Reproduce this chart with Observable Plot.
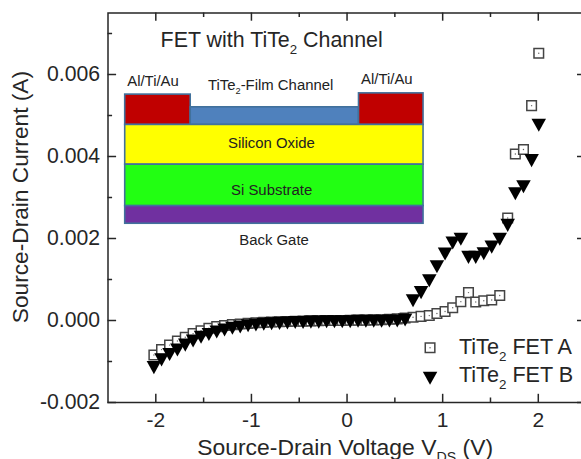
<!DOCTYPE html>
<html>
<head>
<meta charset="utf-8">
<style>
  html, body { margin: 0; padding: 0; background: #fff; }
  svg { display: block; }
</style>
<script src="https://cdn.jsdelivr.net/npm/d3@7"></script>
<script src="https://cdn.jsdelivr.net/npm/@observablehq/plot@0.6"></script>
</head>
<body>
<div id="chart"></div>
<script>
// Measured values (V, mA)
const voltage = [-2.02,-1.94,-1.856,-1.774,-1.692,-1.61,-1.527,-1.445,-1.363,-1.281,-1.199,-1.117,-1.035,-0.953,-0.871,-0.789,-0.706,-0.624,-0.542,-0.46,-0.378,-0.296,-0.214,-0.132,-0.05,0.033,0.115,0.197,0.279,0.361,0.443,0.525,0.607,0.69,0.774,0.86,0.94,1.025,1.105,1.19,1.27,1.346,1.43,1.513,1.597,1.68,1.76,1.845,1.93,2.005];
const fetA = [-0.84,-0.71,-0.60,-0.50,-0.41,-0.32,-0.25,-0.19,-0.15,-0.12,-0.10,-0.085,-0.07,-0.055,-0.045,-0.035,-0.03,-0.025,-0.02,-0.015,-0.01,-0.005,0,0,0,0.005,0.01,0.01,0.015,0.02,0.03,0.04,0.06,0.08,0.10,0.12,0.17,0.22,0.31,0.46,0.68,0.45,0.48,0.50,0.61,2.5,4.06,4.17,5.24,6.52];
const fetB = [-1.15,-0.96,-0.83,-0.72,-0.60,-0.50,-0.41,-0.34,-0.28,-0.23,-0.19,-0.16,-0.13,-0.11,-0.09,-0.08,-0.07,-0.06,-0.05,-0.05,-0.04,-0.04,-0.03,-0.03,-0.03,-0.03,-0.02,-0.02,-0.02,-0.02,-0.01,-0.01,0.01,0.48,0.68,0.97,1.31,1.62,1.89,1.98,1.54,1.54,1.63,1.79,1.98,2.32,3.09,3.26,3.90,4.76];

const xMajor = [-2,-1,0,1,2];
const xMinor = [-1.5,-0.5,0.5,1.5];
const yMajor = [-0.002,0,0.002,0.004,0.006];
const yMinor = [-0.001,0.001,0.003,0.005,0.007];

const seriesNames = ["TiTe_2 FET A","TiTe_2 FET B"];
const legendCurrent = [-0.000666,-0.00141];
const legendBaseline = [-0.000829,-0.001505];

// Schematic inset, in the axes' units
const layerNames = ["Contact L","Channel","Contact R","Oxide","Substrate","Back gate"];
const layerV1 = [-2.32,-1.635,0.125,-2.32,-2.32,-2.32];
const layerV2 = [-1.635,0.125,0.8,0.8,0.8,0.8];
const layerI1 = [0.00477,0.00477,0.00477,0.00380,0.00279,0.00236];
const layerI2 = [0.00551,0.00520,0.00554,0.00477,0.00380,0.00279];
const layerFill = ["#c00000","#4f81bd","#c00000","#ffff00","#22ff12","#7030a0"];

const insetText = ["Al/Ti/Au","Al/Ti/Au","TiTe_2-Film Channel","Silicon Oxide","Si Substrate","Back Gate"];
const insetV = [-2.299,0.146,-1.455,-1.245,-1.213,-1.127];
const insetI = [0.00573,0.00578,0.00563,0.00420,0.00307,0.00185];

const title = "FET with TiTe_2 Channel";
const xLabel = "Source-Drain Voltage V_DS (V)";
const yLabel = "Source-Drain Current (A)";

const xMin = -2.5, xMax = 2.5, yMin = -0.002, yMax = 0.0075;
const major = 0.00020, minor = 0.00011, majorV = 0.09, minorV = 0.048;
const ink = "#262626";

const table = (ys) => voltage.map((v, i) => ({v, i: ys[i] / 1000}));
const layers = layerNames.map((n, k) => ({n, x1: layerV1[k], x2: layerV2[k], y1: layerI1[k], y2: layerI2[k], fill: layerFill[k]}));
const insetLabels = insetText.map((t, k) => ({t, v: insetV[k], i: insetI[k]}));

// Inverted triangle centred on its bounding box
const triangleDown = {
  draw(ctx, size) {
    const s = Math.sqrt(size);
    ctx.moveTo(-s / 2, -s * 0.45);
    ctx.lineTo(s / 2, -s * 0.45);
    ctx.lineTo(0, s * 0.45);
    ctx.closePath();
  }
};
const triangleR = 14.5 / Math.sqrt(Math.PI);
const squareR = 5.4;

const squares = (data) => [
  Plot.dot(data, {x: "v", y: "i", symbol: "square", r: squareR, fill: "#fff", stroke: "#444", strokeWidth: 1.5}),
  Plot.dot(data, {x: "v", y: "i", r: 0.7, fill: "#666"})
];
const triangles = (data) => Plot.dot(data, {x: "v", y: "i", symbol: triangleDown, r: triangleR, fill: "#000", stroke: "none"});

const chart = Plot.plot({
  width: 581,
  height: 459,
  marginLeft: 107.5,
  marginRight: -4.6,
  marginTop: 12.5,
  marginBottom: 57,
  style: {fontFamily: "'Liberation Sans', Arial, sans-serif", background: "#fff", color: ink, overflow: "hidden"},
  x: {domain: [xMin, xMax], axis: null},
  y: {domain: [yMin, yMax], axis: null},
  marks: [
    Plot.rect(layers, {x1: "x1", x2: "x2", y1: "y1", y2: "y2", fill: "fill", stroke: "#41719c", strokeWidth: 1.6, inset: 0}),
    Plot.text(insetLabels, {x: "v", y: "i", text: "t", fontSize: 14.9, textAnchor: "start", lineAnchor: "bottom", fill: "#222"}),
    Plot.text([title], {x: -1.95, y: 0.00667, text: d => d, fontSize: 21.4, textAnchor: "start", lineAnchor: "bottom", fill: ink}),

    // frame and ticks
    Plot.frame({stroke: ink, strokeWidth: 1.5}),
    Plot.ruleX(xMajor, {x: d => d, y1: yMin, y2: yMin + major, stroke: ink, strokeWidth: 1.5}),
    Plot.ruleX(xMinor, {x: d => d, y1: yMin, y2: yMin + minor, stroke: ink, strokeWidth: 1.5}),
    Plot.ruleX(xMajor, {x: d => d, y1: yMax, y2: yMax - major, stroke: ink, strokeWidth: 1.5}),
    Plot.ruleX(xMinor, {x: d => d, y1: yMax, y2: yMax - minor, stroke: ink, strokeWidth: 1.5}),
    Plot.ruleY(yMajor, {y: d => d, x1: xMin, x2: xMin + majorV, stroke: ink, strokeWidth: 1.5}),
    Plot.ruleY(yMinor, {y: d => d, x1: xMin, x2: xMin + minorV, stroke: ink, strokeWidth: 1.5}),
    Plot.ruleY(yMajor, {y: d => d, x1: xMax, x2: xMax - majorV, stroke: ink, strokeWidth: 1.5}),
    Plot.ruleY(yMinor, {y: d => d, x1: xMax, x2: xMax - minorV, stroke: ink, strokeWidth: 1.5}),

    // tick labels
    Plot.axisX({ticks: xMajor, tickSize: 0, tickPadding: 10, fontSize: 21, label: null, tickFormat: d => String(d), fill: ink}),
    Plot.axisY({ticks: yMajor, tickSize: 0, tickPadding: 8, fontSize: 21.2, label: null, tickFormat: d => d.toFixed(3), fill: ink}),

    // data
    ...squares(table(fetA)),
    triangles(table(fetB)),

    // legend
    ...squares([{v: 0.868, i: legendCurrent[0]}]),
    triangles([{v: 0.868, i: legendCurrent[1]}]),
    Plot.text(seriesNames.map((t, k) => ({t, i: legendBaseline[k]})), {x: 1.17, y: "i", text: "t", fontSize: 21.6, textAnchor: "start", lineAnchor: "bottom", fill: ink}),

    // axis titles
    Plot.text([xLabel], {x: -0.02, y: -0.00329, text: d => d, fontSize: 22.9, textAnchor: "middle", lineAnchor: "bottom", fill: ink}),
    Plot.text([yLabel], {frameAnchor: "left", dx: -80.5, y: 0.00301, text: d => d, rotate: -90, fontSize: 22.7, textAnchor: "middle", lineAnchor: "bottom", fill: ink})
  ]
});

// Turn "_x" markers into real subscript tspans
d3.select(chart).selectAll("text").each(function () {
  const full = this.textContent;
  if (!full.includes("_")) return;
  const match = full.match(/^(.*?)_([0-9A-Z]+)(.*)$/);
  if (!match) return;
  const sel = d3.select(this);
  sel.text(null);
  sel.append("tspan").text(match[1]);
  sel.append("tspan").attr("font-size", "62%").attr("dy", "0.5em").text(match[2]);
  sel.append("tspan").attr("dy", "-0.31em").text(match[3]);
});

document.getElementById("chart").append(chart);
</script>
</body>
</html>
